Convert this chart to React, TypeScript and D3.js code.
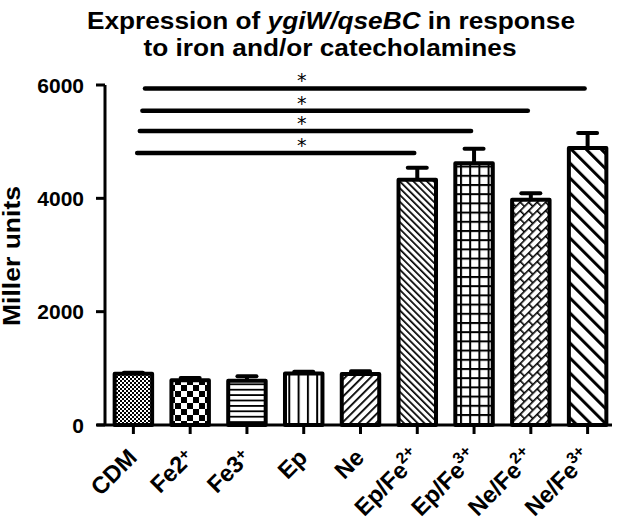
import React from 'react';
import { scaleBand, scaleLinear } from 'd3';

// data
const categories = ['CDM', 'Fe2+', 'Fe3+', 'Ep', 'Ne', 'Ep/Fe2+', 'Ep/Fe3+', 'Ne/Fe2+', 'Ne/Fe3+'];
const means = [905, 790, 780, 910, 900, 4330, 4620, 3975, 4890];
const errors = [15, 40, 80, 30, 50, 210, 255, 115, 265];
const patterns = ['dots', 'checker', 'hlines', 'vlines', 'diagUp', 'diagDown', 'grid', 'brick', 'wideDiag'];
const yTicks = [0, 2000, 4000, 6000];
// significance brackets: from category, to category, height
const sigFrom = ['CDM', 'CDM', 'CDM', 'CDM'];
const sigTo = ['Ne/Fe3+', 'Ne/Fe2+', 'Ep/Fe3+', 'Ep/Fe2+'];
const sigLevel = [5940, 5545, 5190, 4800];

const W = 618, H = 522;
const x = scaleBand().domain(categories).range([105, 616]).paddingInner(0.34).paddingOuter(0.17);
const y = scaleLinear().domain([0, 6000]).range([425, 85]);

function Label({ name }: { name: string }) {
  const m = name.match(/^(.*?)([23])\+$/);
  if (!m) return <>{name}</>;
  if (m[1] === 'Fe') {
    return <>{m[1]}{m[2]}<tspan fontSize={16} dy={-6}>+</tspan></>;
  }
  return <>{m[1]}<tspan fontSize={16} dy={-10}>{m[2]}+</tspan></>;
}

export default function App() {
  const bw = x.bandwidth();
  const cx = (c: string) => (x(c) as number) + bw / 2;
  return (
    <svg width={W} height={H} style={{ position: 'absolute', left: 0, top: 0 }} fontFamily="'Liberation Sans', Arial, sans-serif">
      <defs>
        <pattern id="dots" patternUnits="userSpaceOnUse" width={4} height={4}>
          <rect width={4} height={4} fill="#fff" />
          <rect x={0} y={0} width={2} height={2} fill="#000" />
          <rect x={2} y={2} width={2} height={2} fill="#000" />
        </pattern>
        <pattern id="checker" patternUnits="userSpaceOnUse" width={12} height={12} x={1} y={1}>
          <rect width={12} height={12} fill="#fff" />
          <rect x={0} y={0} width={6} height={6} fill="#000" />
          <rect x={6} y={6} width={6} height={6} fill="#000" />
        </pattern>
        <pattern id="hlines" patternUnits="userSpaceOnUse" width={10} height={5.4}>
          <rect width={10} height={5.4} fill="#fff" />
          <rect x={0} y={0} width={10} height={1.8} fill="#000" />
        </pattern>
        <pattern id="vlines" patternUnits="userSpaceOnUse" width={9.3} height={10}>
          <rect width={9.3} height={10} fill="#fff" />
          <rect x={0} y={0} width={2} height={10} fill="#000" />
        </pattern>
        <pattern id="diagUp" patternUnits="userSpaceOnUse" width={6} height={6} patternTransform="rotate(45)">
          <rect width={6} height={6} fill="#fff" />
          <rect x={0} y={0} width={1.8} height={6} fill="#000" />
        </pattern>
        <pattern id="diagDown" patternUnits="userSpaceOnUse" width={4.8} height={6} patternTransform="rotate(-45)">
          <rect width={4.8} height={6} fill="#fff" />
          <rect x={0} y={0} width={1.7} height={6} fill="#000" />
        </pattern>
        <pattern id="grid" patternUnits="userSpaceOnUse" width={9.2} height={9.2}>
          <rect width={9.2} height={9.2} fill="#fff" />
          <rect x={0} y={0} width={2} height={9.2} fill="#000" />
          <rect x={0} y={0} width={9.2} height={2} fill="#000" />
        </pattern>
        <pattern id="brick" patternUnits="userSpaceOnUse" width={12} height={12} patternTransform="rotate(-45)">
          <rect width={12} height={12} fill="#fff" />
          <rect x={0} y={0} width={12} height={1.6} fill="#000" />
          <rect x={0} y={6} width={12} height={1.6} fill="#000" />
          <rect x={2} y={0} width={1.6} height={6} fill="#000" />
          <rect x={8} y={6} width={1.6} height={6} fill="#000" />
        </pattern>
        <pattern id="wideDiag" patternUnits="userSpaceOnUse" width={10.6} height={10} patternTransform="rotate(-45)">
          <rect width={10.6} height={10} fill="#fff" />
          <rect x={0} y={0} width={3} height={10} fill="#000" />
        </pattern>
      </defs>

      <text x={331} y={29} textAnchor="middle" fontSize={23} fontWeight="bold" textLength={488} lengthAdjust="spacingAndGlyphs">
        Expression of <tspan fontStyle="italic">ygiW/qseBC</tspan> in response
      </text>
      <text x={330} y={56} textAnchor="middle" fontSize={23} fontWeight="bold" textLength={373} lengthAdjust="spacingAndGlyphs">
        to iron and/or catecholamines
      </text>

      {/* y axis */}
      <line x1={105} x2={105} y1={y(6000)} y2={y(0)} stroke="#000" strokeWidth={3} />
      {yTicks.map(t => (
        <g key={t}>
          <line x1={96} x2={105} y1={y(t)} y2={y(t)} stroke="#000" strokeWidth={3} />
          <text x={84} y={y(t)} dy="0.36em" textAnchor="end" fontSize={21} fontWeight="bold">{t}</text>
        </g>
      ))}
      <text transform={`translate(${20},${256}) rotate(-90)`} textAnchor="middle" fontSize={23} fontWeight="bold" textLength={140} lengthAdjust="spacingAndGlyphs">
        Miller units
      </text>

      {/* bars */}
      {categories.map((c, i) => (
        <g key={c}>
          <line x1={cx(c)} x2={cx(c)} y1={y(means[i])} y2={y(means[i] + errors[i])} stroke="#000" strokeWidth={4} />
          <line x1={cx(c) - 9.5} x2={cx(c) + 9.5} y1={y(means[i] + errors[i])} y2={y(means[i] + errors[i])} stroke="#000" strokeWidth={4} strokeLinecap="round" />
          <rect x={x(c)} y={y(means[i])} width={bw} height={y(0) - y(means[i])} fill={`url(#${patterns[i]})`} stroke="#000" strokeWidth={4} strokeLinejoin="round" />
        </g>
      ))}

      {/* x axis */}
      <line x1={97} x2={612} y1={y(0)} y2={y(0)} stroke="#000" strokeWidth={3} />
      {categories.map(c => (
        <g key={'t' + c} transform={`translate(${cx(c)},${y(0)})`}>
          <line x1={0} x2={0} y1={0} y2={9} stroke="#000" strokeWidth={3} />
          <g transform="translate(5,34)">
            <text transform="rotate(-45)" textAnchor="end" fontSize={23.5} fontWeight="bold">
              <Label name={c} />
            </text>
          </g>
        </g>
      ))}

      {/* significance */}
      {sigLevel.map((v, i) => (
        <g key={i}>
          <line x1={cx(sigFrom[i]) + 11.6 - i * 2.6} x2={cx(sigTo[i]) - 3} y1={y(v)} y2={y(v)} stroke="#000" strokeWidth={4.5} strokeLinecap="round" />
          <text x={cx('Ep') - 2} y={y(v) - 1} textAnchor="middle" fontSize={19} fontFamily="'DejaVu Sans', sans-serif">*</text>
        </g>
      ))}
    </svg>
  );
}
